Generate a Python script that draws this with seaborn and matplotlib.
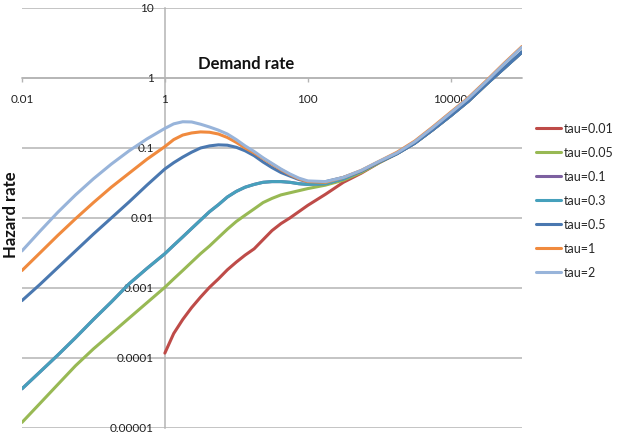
import numpy as np
import pandas as pd
import matplotlib
matplotlib.use("Agg")
import matplotlib.pyplot as plt
import seaborn as sns

# Demand rate sample points read along the x axis (0.01 ... 100000)
demand = [0.01, 0.0178, 0.0316, 0.0562, 0.1, 0.178, 0.316, 0.562, 1,
          1.33, 1.78, 2.37, 3.16, 4.22, 5.62, 7.5, 10,
          13.3, 17.8, 23.7, 31.6, 42.2, 56.2, 75, 100,
          178, 316, 562, 1000, 1780, 3160, 5620, 10000, 17800, 31600, 56200, 100000]

# log10(hazard rate)
log_tau_001 = [np.nan] * 8 + [-3.93,
               -3.65, -3.45, -3.28, -3.13, -2.99, -2.87, -2.74, -2.63,
               -2.53, -2.44, -2.31, -2.18, -2.08, -2.00, -1.91, -1.82,
               -1.66, -1.49, -1.36, -1.21, -1.08, -0.93, -0.74, -0.54, -0.33, -0.09, 0.14, 0.37]
log_tau_005 = [-4.92, -4.65, -4.38, -4.11, -3.87, -3.65, -3.43, -3.21, -2.99,
               -2.87, -2.75, -2.63, -2.51, -2.40, -2.28, -2.16, -2.05,
               -1.96, -1.87, -1.78, -1.72, -1.67, -1.64, -1.61, -1.58,
               -1.53, -1.46, -1.35, -1.21, -1.08, -0.93, -0.74, -0.54, -0.33, -0.09, 0.14, 0.37]
log_tau_01 = [-4.44, -4.20, -3.96, -3.71, -3.45, -3.20, -2.94, -2.72, -2.51,
              -2.39, -2.27, -2.15, -2.03, -1.91, -1.81, -1.70, -1.62,
              -1.56, -1.52, -1.49, -1.48, -1.48, -1.49, -1.51, -1.52,
              -1.51, -1.44, -1.33, -1.20, -1.08, -0.93, -0.74, -0.54, -0.33, -0.09, 0.14, 0.37]
log_tau_03 = [-4.44, -4.20, -3.96, -3.71, -3.45, -3.20, -2.94, -2.72, -2.51,
              -2.39, -2.27, -2.15, -2.03, -1.91, -1.81, -1.70, -1.62,
              -1.56, -1.52, -1.49, -1.48, -1.48, -1.49, -1.51, -1.52,
              -1.51, -1.44, -1.33, -1.20, -1.08, -0.93, -0.74, -0.54, -0.33, -0.09, 0.14, 0.37]
log_tau_05 = [-3.18, -2.95, -2.71, -2.47, -2.23, -2.00, -1.77, -1.53, -1.30,
              -1.21, -1.13, -1.06, -1.00, -0.97, -0.955, -0.96, -0.99,
              -1.04, -1.11, -1.20, -1.28, -1.35, -1.40, -1.45, -1.48,
              -1.48, -1.42, -1.33, -1.20, -1.08, -0.93, -0.74, -0.54, -0.33, -0.09, 0.14, 0.37]
log_tau_1 = [-2.75, -2.50, -2.25, -2.01, -1.78, -1.56, -1.36, -1.16, -0.98,
             -0.88, -0.815, -0.785, -0.77, -0.775, -0.80, -0.85, -0.92,
             -1.00, -1.07, -1.15, -1.23, -1.31, -1.38, -1.44, -1.48,
             -1.49, -1.42, -1.32, -1.19, -1.06, -0.90, -0.70, -0.49, -0.28, -0.04, 0.21, 0.45]
log_tau_2 = [-2.47, -2.19, -1.92, -1.67, -1.44, -1.23, -1.04, -0.87, -0.72,
             -0.655, -0.625, -0.628, -0.66, -0.70, -0.745, -0.80, -0.88,
             -0.97, -1.05, -1.14, -1.22, -1.30, -1.37, -1.43, -1.47,
             -1.48, -1.42, -1.32, -1.19, -1.07, -0.91, -0.71, -0.50, -0.29, -0.05, 0.20, 0.44]

series_names = ["tau=0.01", "tau=0.05", "tau=0.1", "tau=0.3", "tau=0.5", "tau=1", "tau=2"]
series_logs = [log_tau_001, log_tau_005, log_tau_01, log_tau_03, log_tau_05, log_tau_1, log_tau_2]
colors = ["#BE4B48", "#98B954", "#7D60A0", "#46A0BC", "#4A78B0", "#F08A3E", "#98B4DA"]

x_ticks = [0.01, 1, 100, 10000]
x_tick_labels = ["0.01", "1", "100", "10000"]
y_ticks = [1e-5, 1e-4, 1e-3, 1e-2, 1e-1, 1, 10]
y_tick_labels = ["0.00001", "0.0001", "0.001", "0.01", "0.1", "1", "10"]

rows = []
for name, vals in zip(series_names, series_logs):
    for d, v in zip(demand, vals):
        rows.append({"Demand rate": d,
                     "Hazard rate": 10 ** v if not np.isnan(v) else np.nan,
                     "series": name})
df = pd.DataFrame(rows).dropna()

sns.set_theme(style="white")
plt.rcParams["font.family"] = ["Lato", "DejaVu Sans"]

fig = plt.figure(figsize=(6.19, 4.35), dpi=100)
ax = fig.add_axes([22 / 619, 6 / 435, 500 / 619, 420 / 435])

sns.lineplot(data=df, x="Demand rate", y="Hazard rate", hue="series", hue_order=series_names,
             palette=dict(zip(series_names, colors)), linewidth=2.2, sort=True, ax=ax, legend=True)
for ln in ax.get_lines():
    ln.set_solid_joinstyle("round")
    ln.set_solid_capstyle("round")

ax.set_xscale("log")
ax.set_yscale("log")
ax.set_xlim(0.01, 100000)
ax.set_ylim(1e-5, 10)
ax.set_xticks(x_ticks)
ax.set_xticklabels(x_tick_labels)
ax.set_yticks(y_ticks)
ax.set_yticklabels(y_tick_labels)
ax.minorticks_off()
ax.set_xlabel("")
ax.set_ylabel("")

grid_col = "#B4B4B4"
ax.yaxis.grid(True, color=grid_col, linewidth=1.1, zorder=0)
ax.xaxis.grid(False)
ax.set_axisbelow(True)
for s in ["top", "right"]:
    ax.spines[s].set_visible(False)
ax.spines["left"].set_position(("data", 1))
ax.spines["bottom"].set_position(("data", 1))
for s in ["left", "bottom"]:
    ax.spines[s].set_color(grid_col)
    ax.spines[s].set_linewidth(1.1)
    ax.spines[s].set_zorder(0.5)

ax.tick_params(axis="x", direction="out", length=3, width=1, color=grid_col, pad=8,
               labelsize=8.5, labelcolor="#222222", bottom=True)
ax.tick_params(axis="y", length=0, pad=8, labelsize=8.5, labelcolor="#222222", left=True)
for lab in ax.get_yticklabels():
    lab.set_verticalalignment("center")

fig.text(246 / 619, 1 - 64 / 435, "Demand rate", ha="center", va="center",
         fontsize=12, fontweight="bold", color="#111111")
fig.text(11 / 619, 1 - 215 / 435, "Hazard rate", ha="center", va="center", rotation=90,
         fontsize=12, fontweight="bold", color="#111111")

handles, labels = ax.get_legend_handles_labels()
ax.legend(handles, labels, loc="upper left", bbox_to_anchor=(536 / 619, 1 - 123 / 435),
          bbox_transform=fig.transFigure, frameon=False, fontsize=9, handlelength=2.0,
          handletextpad=0.2, labelspacing=0.96, borderaxespad=0, borderpad=0)

fig.savefig("out.png", dpi=100)
